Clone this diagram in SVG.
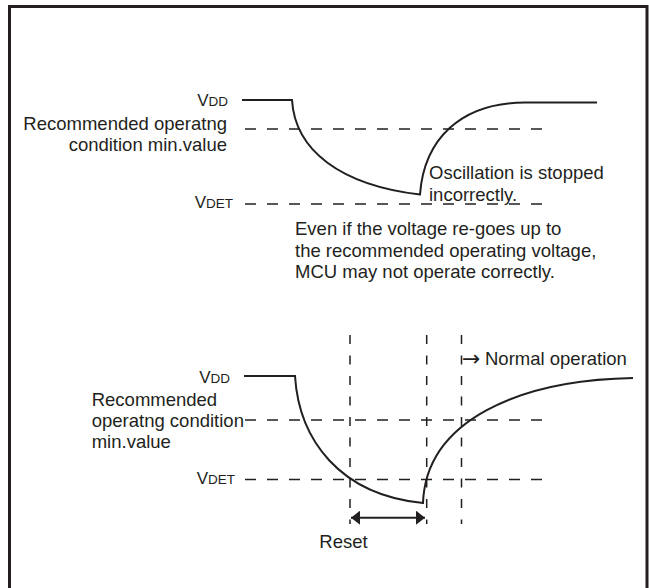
<svg xmlns="http://www.w3.org/2000/svg" width="649" height="588" viewBox="0 0 649 588">
<style>
.t{font-family:"Liberation Sans",Arial,sans-serif;font-size:18.5px;fill:#231f20}
.v{font-family:"Liberation Sans",Arial,sans-serif;font-size:17px;fill:#231f20}
.s{font-size:13.5px}
.ar{font-family:"DejaVu Sans",sans-serif;font-size:22px;fill:#231f20}
.wave{fill:none;stroke:#231f20;stroke-width:2}
.dh{fill:none;stroke:#231f20;stroke-width:1.5;stroke-dasharray:11 11}
.dv{fill:none;stroke:#231f20;stroke-width:1.5;stroke-dasharray:9 11.5}
.frame{fill:none;stroke:#231f20;stroke-width:3}
</style>
<defs>
<marker id="ah" viewBox="0 0 9 14" refX="9" refY="7" markerWidth="9" markerHeight="14" markerUnits="userSpaceOnUse" orient="auto-start-reverse">
<path d="M0,0 L9,7 L0,14 Z" fill="#231f20"/>
</marker>
</defs>
<rect width="649" height="588" fill="#ffffff"/>
<path class="frame" d="M9.5,592 V6.5 H647 V592"/>

<g id="top-chart">
<path class="dh" d="M245,129 H548"/>
<path class="dh" d="M245,204 H548"/>
<path class="wave" d="M242,100 H292 C295,150 340,185 420,194.5 C424,140 460,102.5 525,102.5 H597"/>
<text class="v" x="228" y="106" text-anchor="end">V<tspan class="s">DD</tspan></text>
<text class="t" x="227" y="130" text-anchor="end">Recommended operatng</text>
<text class="t" x="227" y="151" text-anchor="end">condition min.value</text>
<text class="v" x="233" y="208" text-anchor="end">V<tspan class="s">DET</tspan></text>
<text class="t" x="429" y="179">Oscillation is stopped</text>
<text class="t" x="429" y="200.5">incorrectly.</text>
<text class="t" x="295" y="235">Even if the voltage re-goes up to</text>
<text class="t" x="295" y="256.5">the recommended operating voltage,</text>
<text class="t" x="295" y="277.5">MCU may not operate correctly.</text>
</g>

<g id="bottom-chart">
<path class="dh" d="M245,420 H551"/>
<path class="dh" d="M245,479.5 H551"/>
<path class="dv" d="M350,335 V524"/>
<path class="dv" d="M426.7,335 V524"/>
<path class="dv" d="M461.5,335 V524"/>
<path class="wave" d="M244,376 H295 C299,440 340,495 423,503 C426,420 520,380 633,378"/>
<text class="v" x="230" y="383" text-anchor="end">V<tspan class="s">DD</tspan></text>
<text class="t" x="91.7" y="406">Recommended</text>
<text class="t" x="91.7" y="427">operatng condition</text>
<text class="t" x="91.7" y="448.3">min.value</text>
<text class="v" x="235" y="483.5" text-anchor="end">V<tspan class="s">DET</tspan></text>
<text class="ar" x="462" y="366">→</text>
<text class="t" x="485" y="365">Normal operation</text>
<text class="t" x="319.3" y="548.3">Reset</text>
</g>

<g id="connectors">
<path fill="none" stroke="#231f20" stroke-width="2" d="M351,517.7 H425" marker-start="url(#ah)" marker-end="url(#ah)"/>
</g>
</svg>
